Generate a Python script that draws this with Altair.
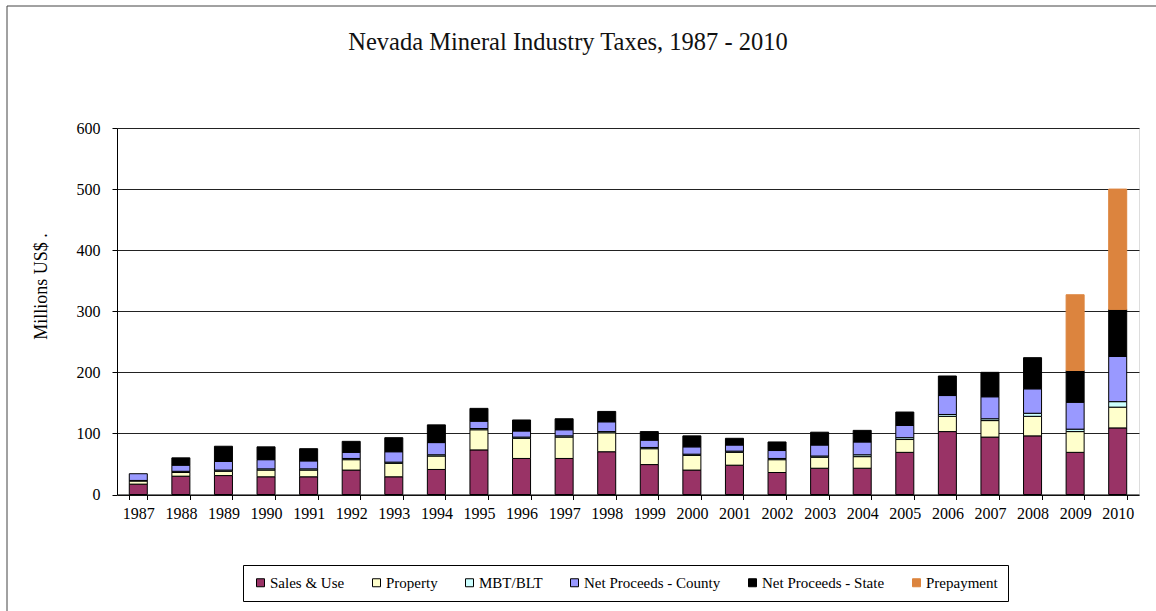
import altair as alt
import pandas as pd

years = [str(y) for y in range(1987, 2011)]
series_names = ["Sales & Use", "Property", "MBT/BLT", "Net Proceeds - County",
                "Net Proceeds - State", "Prepayment"]
series_colors = ["#993366", "#FFFFCC", "#CCFFFF", "#9999FF", "#000000", "#DC843E"]
series_strokes = ["#000000", "#000000", "#000000", "#000000", "#000000", "#DC843E"]

sales = [17, 30, 31, 29, 29, 40, 29, 41, 73, 59, 59, 70, 49, 40, 48, 36, 43, 43, 69, 103, 94, 96, 69, 109]
prop = [5, 6, 7, 11, 11, 17, 22, 22, 33, 33, 35, 31, 26, 24, 21, 21, 18, 19, 21, 25, 27, 32, 34, 34]
mbt = [1, 2, 2, 2, 2, 2, 2, 2, 2, 2, 2, 2, 2, 2, 2, 2, 2, 3, 3, 3, 3, 5, 4, 9]
county = [11, 10, 14, 15, 13, 10, 17, 20, 12, 10, 10, 16, 12, 12, 10, 13, 18, 21, 20, 31, 36, 40, 44, 74]
state = [0, 12, 25, 21, 20, 18, 23, 29, 21, 18, 18, 17, 14, 18, 11, 14, 21, 19, 22, 32, 40, 51, 52, 77]
prepay = [0] * 22 + [124, 197]

y_ticks = [0, 100, 200, 300, 400, 500, 600]

rows = []
for i, name in enumerate(series_names):
    vals = [sales, prop, mbt, county, state, prepay][i]
    for yr, v in zip(years, vals):
        if v > 0:
            rows.append({"year": yr, "series": name, "value": v, "order": i})
df = pd.DataFrame(rows)

FONT = "Liberation Serif"


def make_legend():
    return alt.Legend(
        title=None, orient="none", legendX=126, legendY=437, direction="horizontal",
        columns=6, labelFont=FONT, labelFontSize=15, labelColor="#000000",
        symbolType="square", symbolSize=64, symbolStrokeWidth=1,
        columnPadding=24, labelOffset=2, padding=10, labelLimit=300,
        strokeColor="#000000", fillColor="#FFFFFF",
    )


bars = alt.Chart(df).mark_bar(strokeWidth=1).encode(
    x=alt.X("year:N", sort=years, title=None,
            scale=alt.Scale(paddingInner=0.577, paddingOuter=0.2885),
            axis=alt.Axis(labelAngle=0, tickBand="extent", tickSize=5, tickColor="#000000",
                          domainColor="#000000", labelPadding=6, labelFontSize=16,
                          labelFont=FONT, labelColor="#000000", grid=False)),
    y=alt.Y("value:Q", stack="zero", title="Millions US$ .",
            scale=alt.Scale(domain=[0, 600], nice=False),
            axis=alt.Axis(values=y_ticks, tickSize=5, tickColor="#000000", domainColor="#000000",
                          labelPadding=12, labelFontSize=16, labelFont=FONT, labelColor="#000000",
                          gridColor="#222222", gridWidth=1,
                          titleFont=FONT, titleFontSize=18, titleFontWeight="normal",
                          titleColor="#000000", titleAngle=270, titleX=-76, titleY=158,
                          titleAlign="center", titleBaseline="middle")),
    fill=alt.Fill("series:N", scale=alt.Scale(domain=series_names, range=series_colors),
                  legend=make_legend()),
    stroke=alt.Stroke("series:N", scale=alt.Scale(domain=series_names, range=series_strokes),
                      legend=make_legend()),
    order=alt.Order("order:Q", sort="ascending"),
)

frame_df = pd.DataFrame({"k": [0]})
frame_left = alt.Chart(frame_df).mark_rule(color="#444444", strokeWidth=1).encode(
    x=alt.value(-110), y=alt.value(-122), y2=alt.value(483))
frame_top = alt.Chart(frame_df).mark_rule(color="#444444", strokeWidth=1).encode(
    x=alt.value(-110), x2=alt.value(1039), y=alt.value(-122))

chart = alt.layer(bars, frame_left, frame_top).properties(
    width=1022,
    height=366.5,
    autosize="none",
    padding={"left": 117, "top": 128, "right": 17, "bottom": 116.5},
    title=alt.TitleParams("Nevada Mineral Industry Taxes, 1987 - 2010", font=FONT, fontSize=24.5,
                          fontWeight="normal", color="#111111", anchor="middle", dx=-60,
                          offset=-50),
).configure_view(
    stroke="#888888", strokeWidth=1
).configure(background="#FFFFFF")

chart.save("out.html", embed_options={"renderer": "svg", "actions": False})
